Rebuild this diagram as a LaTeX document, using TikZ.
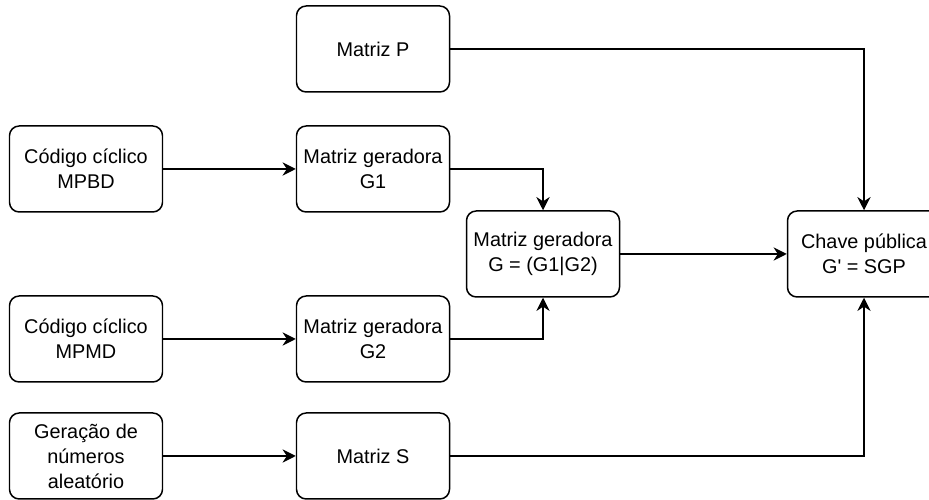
\documentclass[tikz,border=0pt]{standalone}
\usepackage{fontspec}
\setmainfont{Liberation Sans}
\usepackage{tikz}
\usetikzlibrary{arrows.meta}

\begin{document}
\begin{tikzpicture}[
    caixa/.style={draw, line width=0.85pt, rounded corners=5.5pt,
                  minimum width=3.06cm, minimum height=1.72cm,
                  align=center, font=\fontsize{11.3}{14.2}\selectfont},
    seta/.style={-{Stealth[length=7.5pt,width=7.5pt]}, line width=0.85pt}
  ]
      % Canvas
      \useasboundingbox (0,0) rectangle (18.58,-10);

      % Left column
      \node[caixa] (mpbd) at (1.72,-3.38) {Código cíclico\\MPBD};
      \node[caixa] (mpmd) at (1.72,-6.78) {Código cíclico\\MPMD};
      \node[caixa] (aleat) at (1.72,-9.12) {Geração de\\números\\aleatório};

      % Middle column
      \node[caixa] (matP) at (7.46,-0.98) {Matriz P};
      \node[caixa] (g1) at (7.46,-3.38) {Matriz geradora\\G1};
      \node[caixa] (g2) at (7.46,-6.78) {Matriz geradora\\G2};
      \node[caixa] (matS) at (7.46,-9.12) {Matriz S};

      % Concatenation and key
      \node[caixa] (gcat) at (10.86,-5.08) {Matriz geradora\\G = (G1|G2)};
      \node[caixa] (chave) at (17.28,-5.08) {Chave pública\\G\textquotesingle{} = SGP};

      % Connectors
      \draw[seta] (mpbd) -- (g1);
      \draw[seta] (mpmd) -- (g2);
      \draw[seta] (aleat) -- (matS);
      \draw[seta] (g1.east) -| (gcat.north);
      \draw[seta] (g2.east) -| (gcat.south);
      \draw[seta] (gcat) -- (chave);
      \draw[seta] (matP.east) -| (chave.north);
      \draw[seta] (matS.east) -| (chave.south);
    \end{tikzpicture}
\end{document}
